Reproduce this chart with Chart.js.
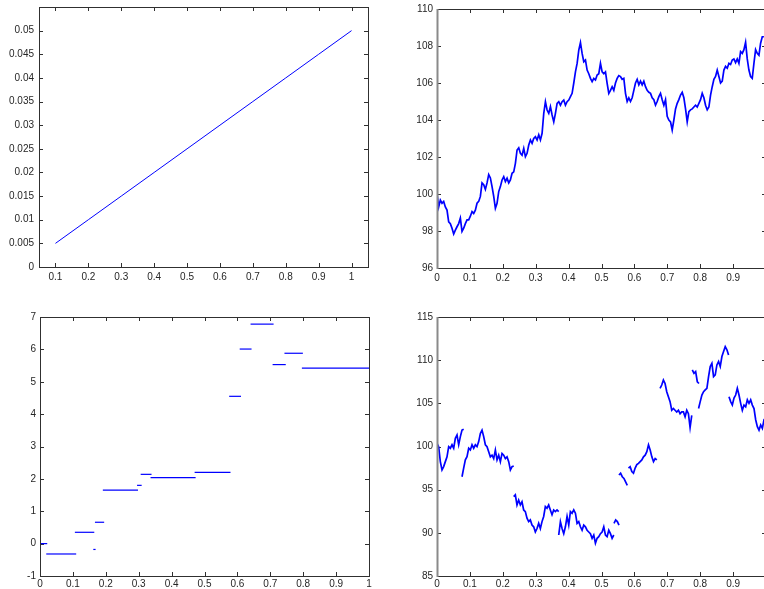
<!DOCTYPE html>
<html>
<head>
<meta charset="utf-8">
<title>Subplots</title>
<script src="https://cdn.jsdelivr.net/npm/chart.js@4.4.1/dist/chart.umd.min.js"></script>
<style>
  html, body { margin: 0; padding: 0; background: #fff; overflow: hidden; }
  #page { position: relative; width: 764px; height: 589px; overflow: hidden; background: #fff; }
  canvas { position: absolute; }
</style>
</head>
<body>
<div id="page">
  <canvas id="tl" width="380" height="290" style="left:0;top:0"></canvas>
  <canvas id="tr" width="392" height="290" style="left:382px;top:0"></canvas>
  <canvas id="bl" width="380" height="300" style="left:0;top:295px"></canvas>
  <canvas id="br" width="392" height="300" style="left:382px;top:295px"></canvas>
</div>
<script>
// top left: straight line
const lineX = [0.1, 0.2, 0.3, 0.4, 0.5, 0.6, 0.7, 0.8, 0.9, 1.0];
const lineY = [0.005, 0.01, 0.015, 0.02, 0.025, 0.03, 0.035, 0.04, 0.045, 0.05];
const tlXTicks = [0.1, 0.2, 0.3, 0.4, 0.5, 0.6, 0.7, 0.8, 0.9, 1];
const tlYTicks = [0, 0.005, 0.01, 0.015, 0.02, 0.025, 0.03, 0.035, 0.04, 0.045, 0.05];

// top right: price path, sampled every walkStep
const walkStep = 0.00507;
const walkY = [
  100.04, 99.3, 99.67, 99.5, 99.6, 99.3, 99.13, 98.5, 98.4, 98.15,
  97.84, 98.05, 98.23, 98.4, 98.7, 97.98, 98.15, 98.4, 98.6, 98.6,
  98.8, 99.05, 98.95, 99.13, 99.5, 99.6, 99.87, 100.6, 100.5, 100.25,
  100.6, 101.05, 100.87, 100.4, 99.87, 99.23, 99.5, 100.13, 100.4, 100.76,
  100.94, 100.67, 100.85, 100.6, 100.76, 101.12, 101.2, 101.66, 102.38, 102.5,
  102.2, 102.1, 102.47, 102.02, 102.2, 102.65, 102.92, 102.74, 103.0, 103.1,
  102.92, 103.2, 102.92, 103.28, 104.36, 104.99, 104.54, 104.36, 104.72, 104.27,
  103.9, 104.36, 104.9, 104.99, 104.8, 104.99, 105.08, 104.8, 104.99, 105.08,
  105.26, 105.44, 106.0, 106.6, 107.06, 107.78, 108.18, 107.6, 107.15, 107.24,
  106.7, 106.5, 106.25, 106.07, 106.25, 106.16, 106.43, 106.5,
  107.06, 106.6, 106.5, 106.6, 105.98, 105.44, 105.6, 105.8, 105.6, 106.0,
  106.25, 106.4, 106.35, 106.2, 106.25, 105.44, 105.0, 105.2, 105.0, 105.2,
  105.6, 106.0, 106.2, 105.9, 106.1, 105.9, 106.1, 105.8, 105.6, 105.5,
  105.44, 105.2, 105.1, 104.8, 105.0, 105.26, 105.44, 105.1, 104.8, 105.1,
  104.2, 104.0, 103.9, 103.46, 104.0, 104.6, 104.9, 105.1, 105.35, 105.5,
  105.2, 104.6, 103.9, 104.45, 104.55, 104.6, 104.7, 104.8, 104.7, 104.9,
  105.1, 105.44, 105.2, 104.8, 104.55, 104.7, 105.35, 105.8, 106.2, 106.35,
  106.7, 106.35, 106.0, 106.1, 106.7, 106.9, 106.8, 107.06, 107.0, 107.24,
  107.3, 107.1, 107.3, 107.06, 107.7, 107.6, 107.8, 108.2, 107.3, 106.7,
  106.35, 106.25, 107.06, 107.8, 107.6, 107.5, 108.15, 108.5, 108.5
];
const trXTicks = [0, 0.1, 0.2, 0.3, 0.4, 0.5, 0.6, 0.7, 0.8, 0.9];
const trYTicks = [96, 98, 100, 102, 104, 106, 108, 110];

// bottom left: piecewise constant levels
const stepStart = [0, 0.019, 0.106, 0.162, 0.167, 0.191, 0.295, 0.306, 0.336, 0.470, 0.575, 0.607, 0.640, 0.707, 0.743, 0.796];
const stepEnd   = [0.022, 0.110, 0.165, 0.169, 0.195, 0.298, 0.309, 0.339, 0.473, 0.579, 0.611, 0.643, 0.710, 0.747, 0.799, 1.0];
const stepLevel = [0, -0.32, 0.35, -0.18, 0.66, 1.65, 1.80, 2.14, 2.04, 2.20, 4.55, 6.01, 6.78, 5.53, 5.88, 5.42];
const blXTicks = [0, 0.1, 0.2, 0.3, 0.4, 0.5, 0.6, 0.7, 0.8, 0.9, 1];
const blYTicks = [-1, 0, 1, 2, 3, 4, 5, 6, 7];

// bottom right: path with jumps, one array per piece
const jumpStep = 0.00507;
const pieceStart = [0, 0.076, 0.233, 0.370, 0.538, 0.553, 0.582, 0.678, 0.776, 0.795, 0.8875];
const pieceA = [100.37, 99.98, 98.25, 97.28, 97.67, 98.25, 98.8, 99.98, 99.8, 100.2, 99.8, 100.95, 101.33, 100.2, 101.14, 101.9, 102.0];
const pieceB = [96.5, 97.5, 98.45, 98.83, 99.8, 99.6, 100.2, 99.8, 100.2, 99.98, 100.57, 101.5, 101.9, 101.14, 100.2, 99.98,
                99.4, 98.8, 99.0, 98.6, 99.6, 98.45, 99.0, 98.25, 99.2, 99.0, 98.6, 98.8, 98.25, 97.28, 97.67, 97.74];
const pieceC = [94.2, 94.4, 93.23, 93.8, 93.23, 93.6, 92.65, 92.46, 91.7, 91.3, 91.5, 90.9, 90.7, 90.1,
                90.5, 91.1, 90.5, 91.3, 91.9, 93.05, 92.85, 93.23, 92.65, 92.1, 92.65, 92.46, 92.65, 92.46];
const pieceD = [89.75, 91.3, 90.5, 89.9, 90.7, 91.9, 90.9, 92.46, 92.27, 92.65, 92.27, 91.1, 91.3, 90.7, 90.3, 90.9, 90.7,
                90.3, 90.1, 89.9, 89.37, 89.75, 88.8, 89.37, 89.56, 89.9, 90.1, 90.7, 89.75, 89.56, 90.3, 89.9, 89.37, 89.75];
const pieceE = [91.1, 91.5, 91.3, 90.9];
const pieceF = [96.7, 96.9, 96.5, 96.3, 95.9, 95.5];
const pieceG = [97.5, 97.67, 97.1, 96.9, 97.5, 97.9, 98.05, 98.25, 98.45, 98.8, 99.0, 99.4, 100.2, 99.6, 98.8, 98.25, 98.6, 98.45];
const pieceH = [106.74, 107.12, 107.7, 107.3, 106.35, 105.77, 105.2, 104.2, 104.4, 104.2, 104.0, 104.2, 103.8, 104.0, 104.0,
                103.45, 104.2, 103.8, 102.2, 103.6];
const pieceI = [108.87, 108.47, 108.67, 107.5, 107.3];
const pieceJ = [104.4, 105.2, 105.96, 106.35, 106.55, 106.74, 108.1, 109.26, 109.64, 108.1, 108.3, 109.45, 109.84, 109.26,
                110.42, 111.0, 111.56, 111.2, 110.6];
const pieceK = [105.77, 105.2, 104.8, 105.6, 105.96, 106.74, 105.96, 105.0, 104.2, 104.8, 104.6, 105.4, 105.0, 105.4, 104.8,
                104.4, 103.1, 102.3, 101.9, 102.5, 102.1, 103.1, 103.3];
const pieces = [pieceA, pieceB, pieceC, pieceD, pieceE, pieceF, pieceG, pieceH, pieceI, pieceJ, pieceK];
const brXTicks = [0, 0.1, 0.2, 0.3, 0.4, 0.5, 0.6, 0.7, 0.8, 0.9, 1];
const brYTicks = [85, 90, 95, 100, 105, 110, 115];

Chart.defaults.font.family = '"Liberation Sans", Arial, Helvetica, sans-serif';
Chart.defaults.font.size = 10;
Chart.defaults.color = '#262626';

// box round the plot area; inward tick marks go under the data, the frame over it
const matlabBox = {
  id: 'matlabBox',
  beforeDatasetsDraw(chart) {
    const { ctx, chartArea: a, scales } = chart;
    const len = 4;
    ctx.save();
    ctx.strokeStyle = '#303030';
    ctx.lineWidth = 1;
    ctx.beginPath();
    scales.x.ticks.forEach(t => {
      const p = Math.round(scales.x.getPixelForValue(t.value)) + 0.5;
      ctx.moveTo(p, a.bottom); ctx.lineTo(p, a.bottom - len);
      ctx.moveTo(p, a.top); ctx.lineTo(p, a.top + len);
    });
    scales.y.ticks.forEach(t => {
      const p = Math.round(scales.y.getPixelForValue(t.value)) + 0.5;
      ctx.moveTo(a.left, p); ctx.lineTo(a.left + len, p);
      ctx.moveTo(a.right, p); ctx.lineTo(a.right - len, p);
    });
    ctx.stroke();
    ctx.restore();
  },
  afterDraw(chart, args, opts) {
    const { ctx, chartArea: a } = chart;
    ctx.save();
    ctx.strokeStyle = '#303030';
    ctx.lineWidth = 1;
    ctx.strokeRect(a.left + 0.5, a.top + 0.5, a.right - a.left, a.bottom - a.top);
    if (opts.leftWidth > 1) {
      ctx.strokeStyle = '#8a8a8a';
      ctx.lineWidth = opts.leftWidth;
      ctx.beginPath();
      ctx.moveTo(a.left + 0.5, a.top);
      ctx.lineTo(a.left + 0.5, a.bottom + 1);
      ctx.stroke();
    }
    ctx.restore();
  }
};

function axis(dir, min, max, ticks, size, pad) {
  return {
    type: 'linear',
    min: min,
    max: max,
    grid: { display: false, drawTicks: false },
    border: { display: false },
    ticks: { autoSkip: false, maxRotation: 0, padding: pad, callback: v => String(v) },
    afterBuildTicks: s => { s.ticks = ticks.map(v => ({ value: v })); },
    afterFit: s => {
      if (dir === 'x') { s.height = size; s.paddingLeft = 0; s.paddingRight = 0; }
      else { s.width = size; s.paddingTop = 0; s.paddingBottom = 0; }
    }
  };
}

function blue(points, width) {
  return { data: points, borderColor: '#0000ff', borderWidth: width, pointRadius: 0, fill: false, tension: 0 };
}

function makeChart(id, c) {
  return new Chart(document.getElementById(id), {
    type: 'line',
    data: { datasets: c.datasets },
    options: {
      responsive: false,
      animation: false,
      events: [],
      layout: { padding: { top: c.top, right: c.right, bottom: 0, left: 0 } },
      plugins: {
        legend: { display: false },
        tooltip: { enabled: false },
        matlabBox: { leftWidth: c.leftWidth || 1 }
      },
      scales: {
        x: axis('x', c.xMin, c.xMax, c.xTicks, c.xHeight, c.xPad),
        y: axis('y', c.yMin, c.yMax, c.yTicks, c.yWidth, c.yPad)
      }
    },
    plugins: [matlabBox]
  });
}

makeChart('tl', {
  datasets: [blue(lineX.map((x, i) => ({ x: x, y: lineY[i] })), 1)],
  top: 7, right: 12, xHeight: 23, yWidth: 39, xPad: 4, yPad: 5,
  xMin: 0.05, xMax: 1.05, xTicks: tlXTicks,
  yMin: 0, yMax: 0.055, yTicks: tlYTicks
});

makeChart('tr', {
  datasets: [blue(walkY.map((v, i) => ({ x: i * walkStep, y: v })), 1.7)],
  top: 9, right: 8, xHeight: 22, yWidth: 55, xPad: 4, yPad: 4, leftWidth: 2,
  xMin: 0, xMax: 1, xTicks: trXTicks,
  yMin: 96, yMax: 110, yTicks: trYTicks
});

makeChart('bl', {
  datasets: stepLevel.map((lv, i) => blue([{ x: stepStart[i], y: lv }, { x: stepEnd[i], y: lv }], 1.2)),
  top: 22, right: 11, xHeight: 19, yWidth: 40, xPad: 2, yPad: 4,
  xMin: 0, xMax: 1, xTicks: blXTicks,
  yMin: -1, yMax: 7, yTicks: blYTicks
});

makeChart('br', {
  datasets: pieces.map((vals, k) => blue(vals.map((v, i) => ({ x: pieceStart[k] + i * jumpStep, y: v })), 1.7)),
  top: 22, right: 8, xHeight: 19, yWidth: 55, xPad: 2, yPad: 4, leftWidth: 2,
  xMin: 0, xMax: 1, xTicks: brXTicks,
  yMin: 85, yMax: 115, yTicks: brYTicks
});
</script>
</body>
</html>
